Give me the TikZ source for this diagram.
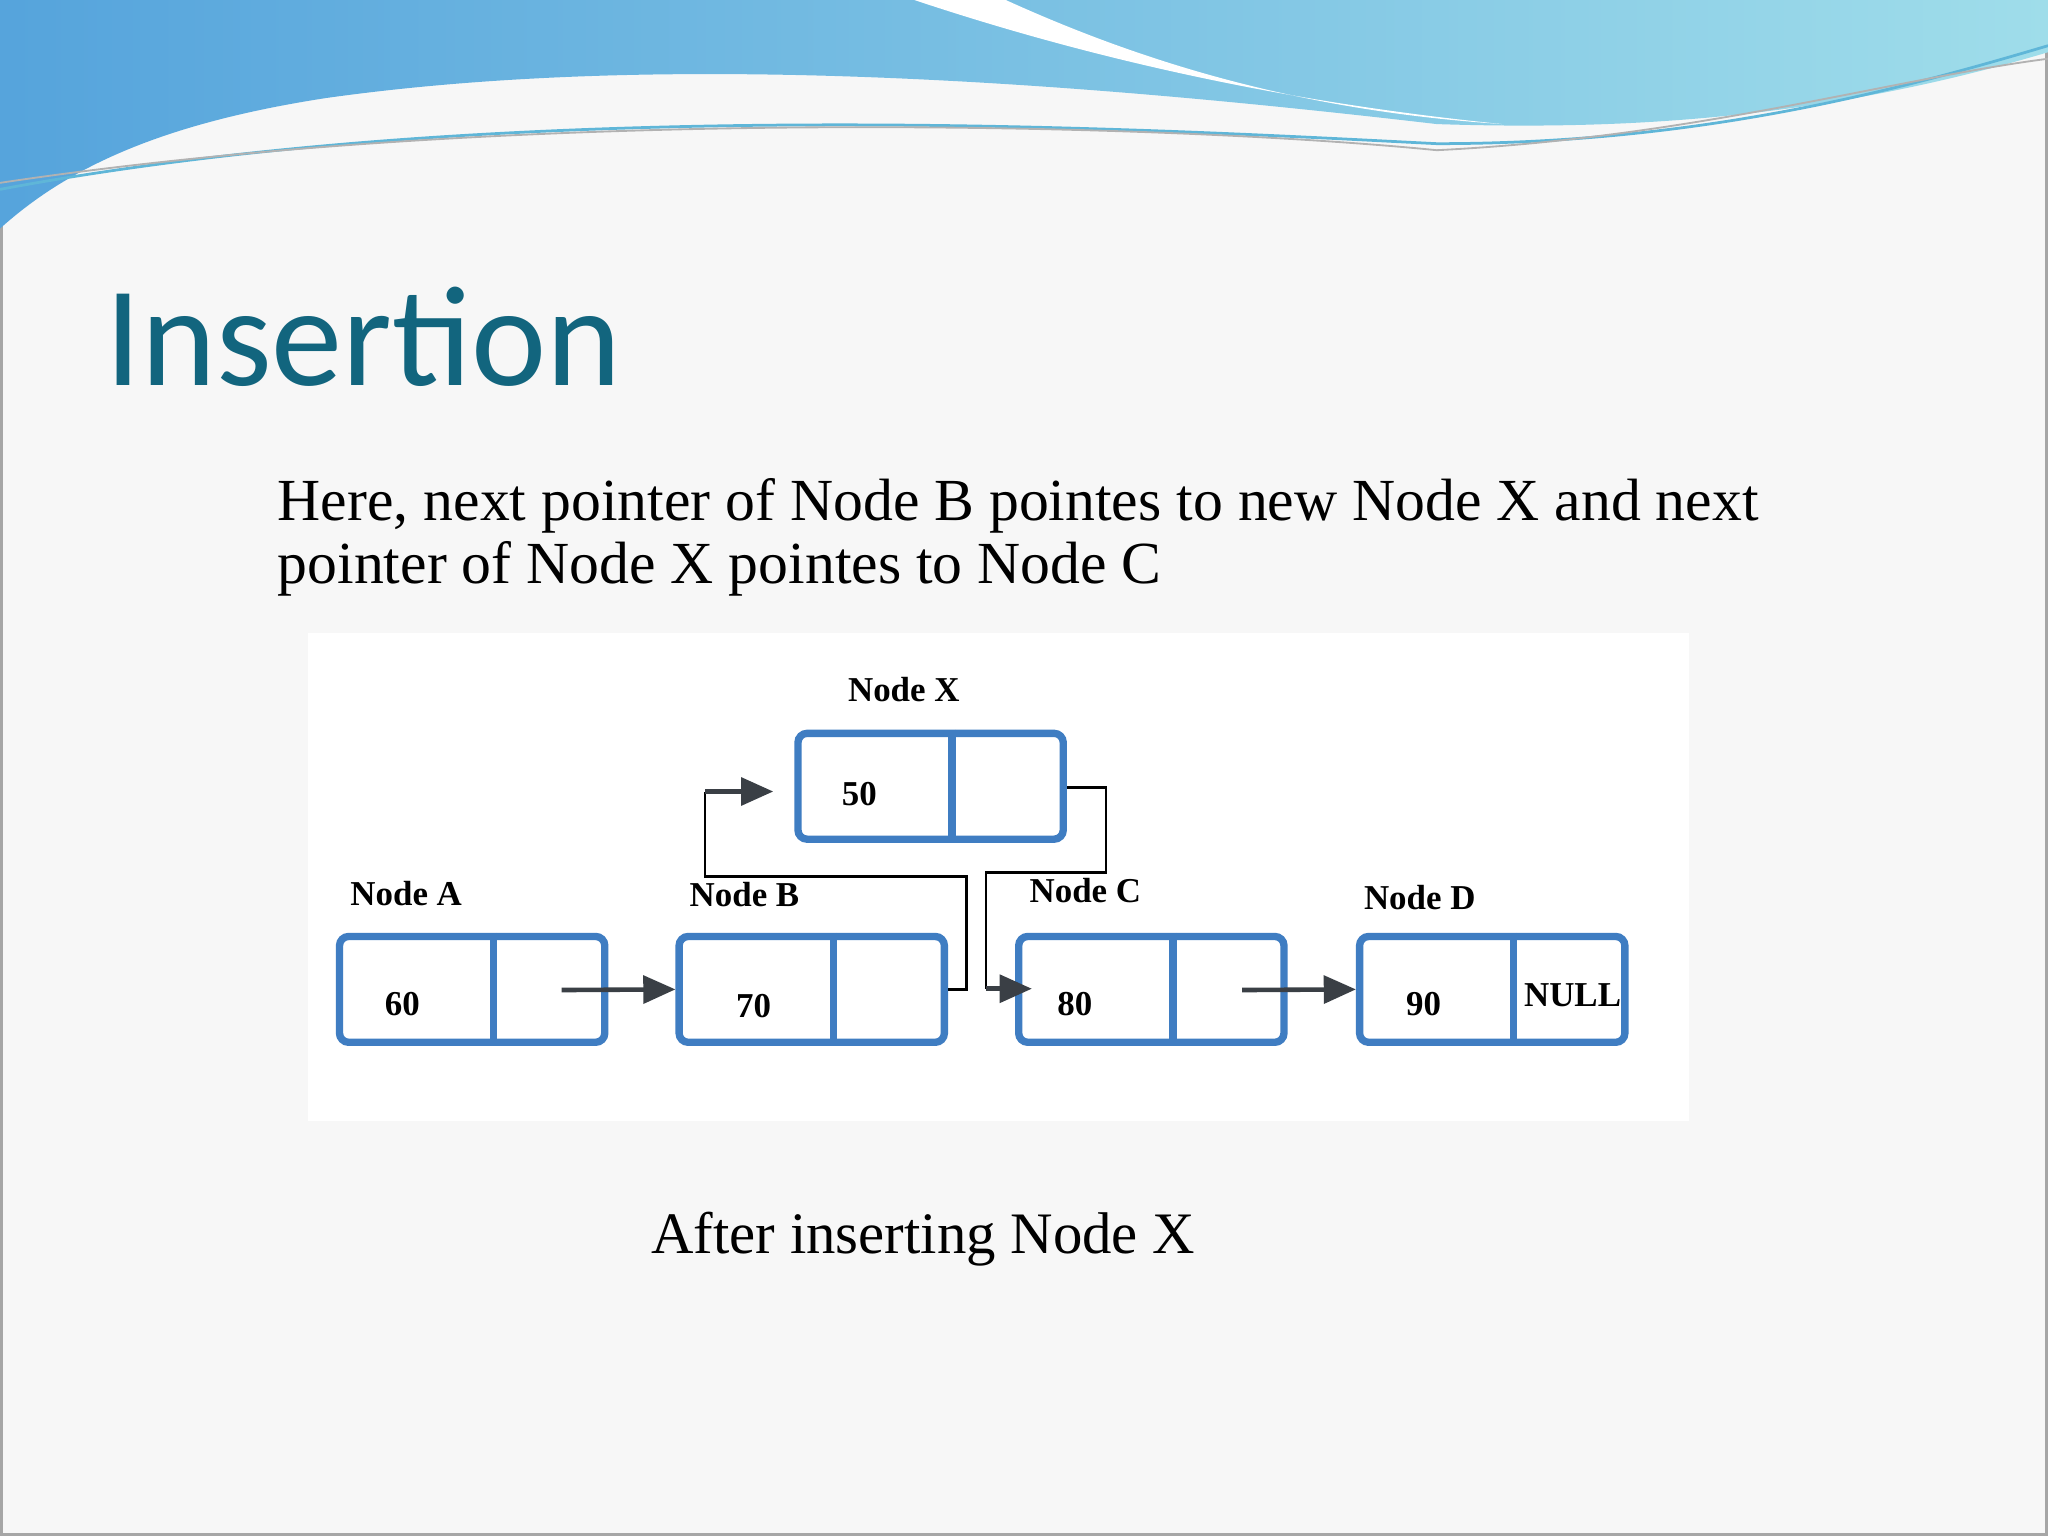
\documentclass[tikz,border=0pt]{standalone}
\usepackage{fontspec}
\setmainfont{Liberation Serif}
\newfontfamily\titlefont{Carlito}
\usetikzlibrary{positioning,arrows.meta}
\definecolor{slidebg}{HTML}{F7F7F7}
\definecolor{titleblue}{HTML}{12657E}
\definecolor{cellblue}{HTML}{3F7DC2}
\definecolor{wavedark}{HTML}{5FB6D8}
\definecolor{wavelight}{HTML}{9FDDEA}
\definecolor{arrowgray}{HTML}{3A3F45}
\tikzset{
  cell/.style={draw=cellblue,line width=1.6pt,rounded corners=2pt,minimum width=2.03cm,minimum height=0.81cm,inner sep=0pt},
  lbl/.style={font=\bfseries\fontsize{7.6}{8}\selectfont},
  val/.style={font=\bfseries\fontsize{7.6}{8}\selectfont},
  link/.style={line width=0.5pt,black},
  ptr/.style={line width=1pt,arrowgray,-{Triangle[length=7pt,width=6pt]}},
}
\begin{document}
\begin{tikzpicture}[x=0.01cm,y=-0.01cm]
\useasboundingbox (0,0) rectangle (1568,1176);
\fill[slidebg] (0,0) rectangle (1568,1176);
\draw[gray!70,line width=0.6pt] (1,1) rectangle (1567,1175);
% top wave
\shade[left color=wavedark!90!blue,right color=wavelight] (0,0) -- (1568,0) -- (1568,40)
  .. controls (1400,90) and (1250,100) .. (1100,95)
  .. controls (800,60) and (500,40) .. (250,75)
  .. controls (120,95) and (50,130) .. (0,175) -- cycle;
\fill[white] (700,0) .. controls (850,50) and (1000,80) .. (1150,95)
  .. controls (1000,85) and (880,50) .. (770,0) -- cycle;
\draw[wavedark,line width=0.6pt] (0,145) .. controls (400,70) and (900,100) .. (1100,110) .. controls (1300,110) and (1450,70) .. (1568,35);
\draw[gray!60,line width=0.4pt] (0,140) .. controls (400,80) and (900,95) .. (1100,115) .. controls (1300,105) and (1450,60) .. (1568,45);
% title and text
\node[anchor=base west,inner sep=0pt,text=titleblue,font=\titlefont\fontsize{31}{31}\selectfont] (title) at (80,295) {Insertion};
\node[anchor=base west,inner sep=0pt,align=left,font=\fontsize{13}{13.8}\selectfont] (body) at (212,447)
  {Here, next pointer of Node B pointes to new Node X and next\\pointer of Node X pointes to Node C};
\fill[white] (236,485) rectangle (1293,858);
% cells
\node[cell] (a) at (361.5,757.5) {};
\node[cell] (b) at (621.5,757.5) {};
\node[cell] (c) at (881.5,757.5) {};
\node[cell] (d) at (1142.5,757.5) {};
\node[cell] (x) at (712.5,602) {};
\foreach \n/\d in {a/378,b/638,c/898,d/1159,x/729}
  \draw[cellblue,line width=1.6pt] (\d,0 |- \n.north) -- (\d,0 |- \n.south);
% labels
\node[lbl] (la) at (311,684) {Node A};
\node[lbl] (lb) at (570,685) {Node B};
\node[lbl] (lc) at (831,682) {Node C};
\node[lbl] (ld) at (1087,687) {Node D};
\node[lbl] (lx) at (692,528) {Node X};
\node[val] (va) at (308,769) {60};
\node[val] (vb) at (577,770) {70};
\node[val] (vc) at (823,769) {80};
\node[val] (vd) at (1090,769) {90};
\node[val] (vx) at (658,608) {50};
\node[val] (vn) at (1204,762) {NULL};
% pointers
\draw[ptr] (430,758) -- (b.west);
\draw[ptr] (951,758) -- (d.west);
\draw[link] (b.east) -- (740,757.5) -- (740,671) -- (540,671) -- (540,606);
\draw[ptr] (540,606) -- (592,606);
\draw[link] (x.east) ++(0,1) -- (847,603) -- (847,668) -- (755,668) -- (755,757);
\draw[ptr] (755,757) -- (790,757);
\node[anchor=base west,inner sep=0pt,font=\fontsize{12.8}{13}\selectfont] (cap) at (498,960) {After inserting Node X};
\end{tikzpicture}
\end{document}
